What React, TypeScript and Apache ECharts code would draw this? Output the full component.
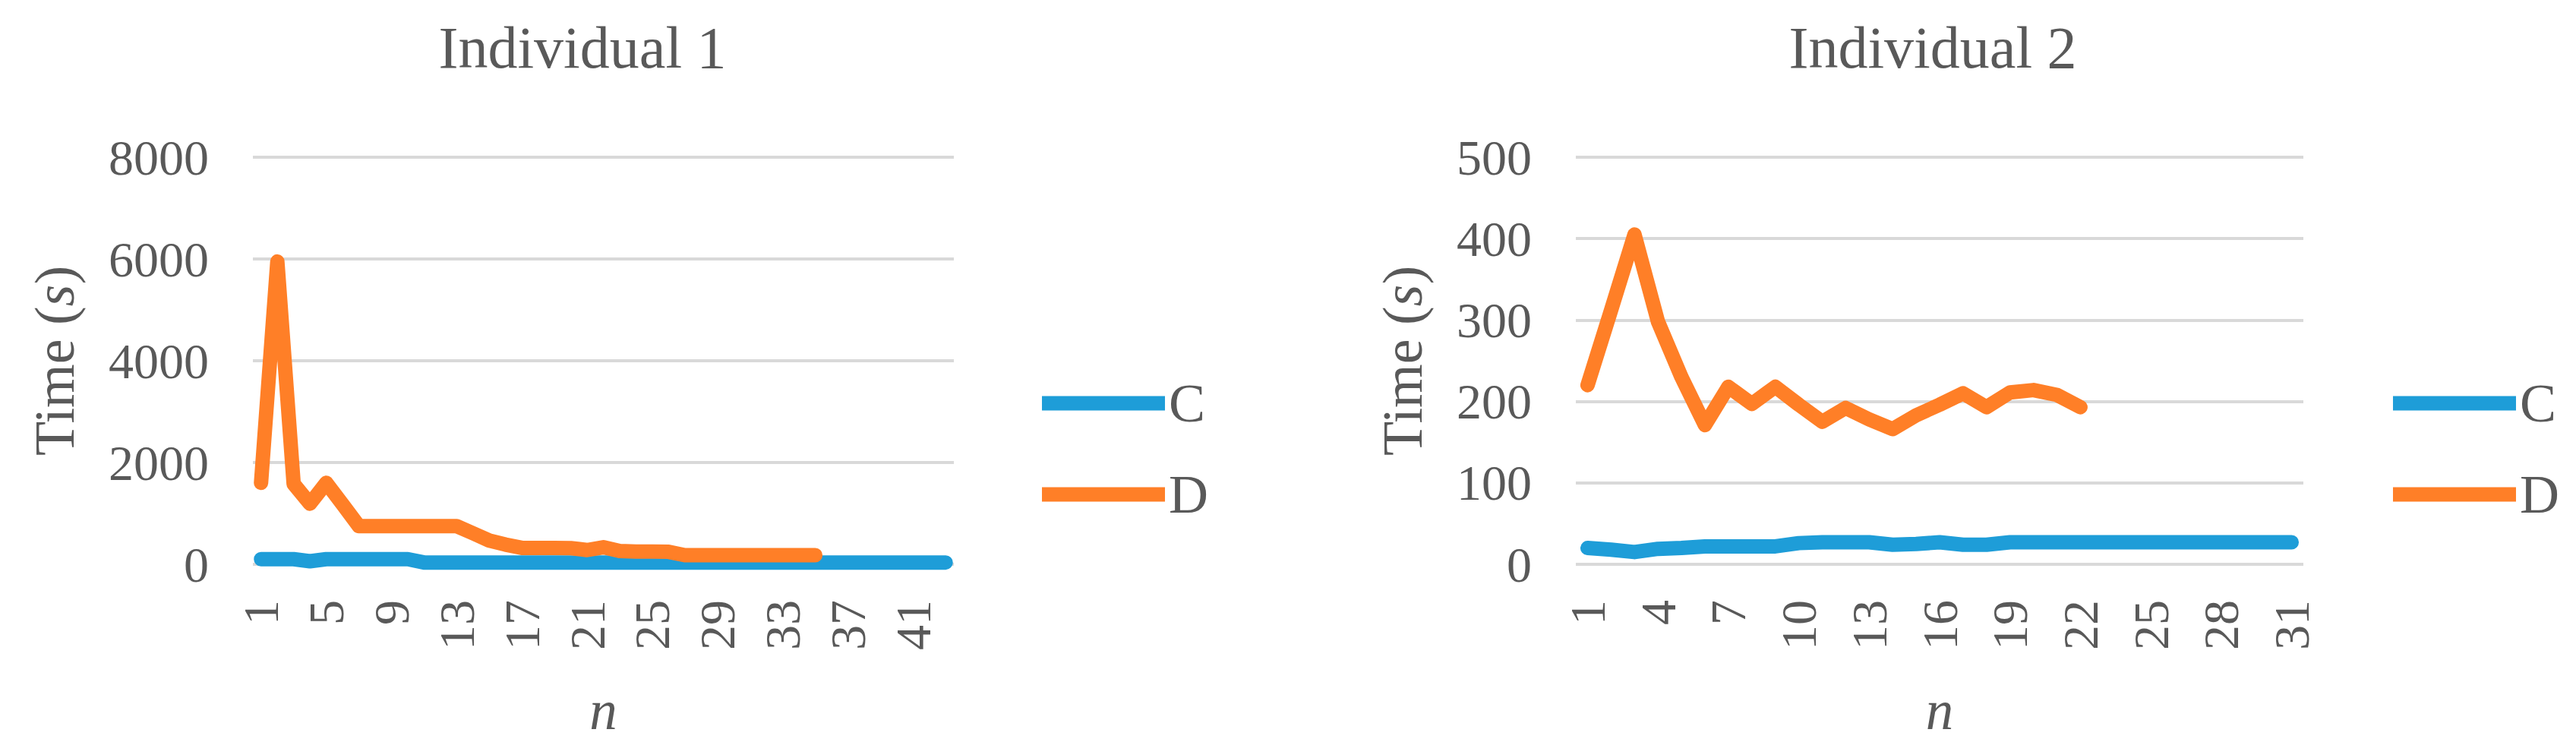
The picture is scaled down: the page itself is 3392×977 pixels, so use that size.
import React, { useEffect, useRef } from 'react';
import * as echarts from 'echarts';

const CATS1 = ['1','2','3','4','5','6','7','8','9','10','11','12','13','14','15','16','17','18','19','20','21','22','23','24','25','26','27','28','29','30','31','32','33','34','35','36','37','38','39','40','41','42','43'];
const C1 = [100,100,100,60,100,100,100,100,100,100,35,35,35,35,35,35,35,35,35,35,35,35,35,35,35,35,35,35,35,35,35,35,35,35,35,35,35,35,35,35,35,35,35];
const D1 = [1600,5950,1580,1190,1600,1180,750,750,750,750,750,750,750,610,466,387,322,320,320,318,280,335,262,250,250,245,180,180,180,180,180,180,180,180,180];

const CATS2 = ['1','2','3','4','5','6','7','8','9','10','11','12','13','14','15','16','17','18','19','20','21','22','23','24','25','26','27','28','29','30','31'];
const C2 = [20,18,15,19,20,22,22,22,22,26,27,27,27,24,25,27,24,24,27,27,27,27,27,27,27,27,27,27,27,27,27];
const D2 = [220,312,405,298,230,171,218,197,218,196,175,192,178,166,183,196,210,193,211,214,208,193];

const Y1_MAX = 8000, Y1_STEP = 2000;
const Y2_MAX = 500, Y2_STEP = 100;

const TITLES = ['Individual 1', 'Individual 2'];

const BLUE = '#1E9DD8';
const ORANGE = '#FF7F27';
const GREY = '#595959';
const GRID = '#D9D9D9';
const FONT = '"Liberation Serif", "Times New Roman", serif';

function xAxis(gridIndex: number, data: string[], interval: number) {
  return {
    type: 'category', gridIndex, data, boundaryGap: true,
    axisLine: { show: false }, axisTick: { show: false },
    axisLabel: { interval, rotate: 90, margin: 47, fontSize: 66, color: GREY, fontFamily: FONT },
    name: 'n', nameLocation: 'middle', nameGap: 156,
    nameTextStyle: { fontSize: 73, color: GREY, fontFamily: FONT, fontStyle: 'italic' },
    splitLine: { show: false },
  };
}

function yAxis(gridIndex: number, max: number, step: number, nameGap: number) {
  return {
    type: 'value', gridIndex, min: 0, max, interval: step,
    axisLine: { show: false }, axisTick: { show: false },
    axisLabel: { margin: 58, fontSize: 66, color: GREY, fontFamily: FONT, formatter: (v: number) => String(v) },
    splitLine: { show: true, lineStyle: { color: GRID, width: 4 } },
    name: '{a|Time (}{b|s}{a|)}', nameLocation: 'middle', nameGap, nameRotate: 90,
    nameTextStyle: {
      rich: {
        a: { fontSize: 74, color: GREY, fontFamily: FONT },
        b: { fontSize: 74, color: GREY, fontFamily: FONT, fontStyle: 'italic' },
      },
    },
  };
}

function line(name: string, color: string, data: number[], idx: number) {
  return {
    type: 'line', name, data, xAxisIndex: idx, yAxisIndex: idx, symbol: 'none',
    lineStyle: { width: 19, color, cap: 'round', join: 'round' },
    itemStyle: { color },
  };
}

function legend(left: number) {
  return {
    orient: 'vertical', left, top: 490, icon: 'rect', itemWidth: 162, itemHeight: 19, itemGap: 48,
    data: ['C', 'D'],
    textStyle: { fontSize: 72, lineHeight: 72, color: GREY, fontFamily: FONT },
  };
}

export default function App() {
  const ref = useRef<HTMLDivElement>(null);
  useEffect(() => {
    const chart = echarts.init(ref.current!, null, { renderer: 'svg' });
    chart.setOption({
      animation: false,
      backgroundColor: '#ffffff',
      title: [
        { text: TITLES[0], left: 762, top: 18, textAlign: 'center', textStyle: { fontSize: 78, fontWeight: 'normal', color: GREY, fontFamily: FONT } },
        { text: TITLES[1], left: 2540, top: 18, textAlign: 'center', textStyle: { fontSize: 78, fontWeight: 'normal', color: GREY, fontFamily: FONT } },
      ],
      grid: [
        { left: 333, top: 207, width: 923, height: 539 },
        { left: 2075, top: 207, width: 958, height: 539 },
      ],
      xAxis: [xAxis(0, CATS1, 3), xAxis(1, CATS2, 2)],
      yAxis: [yAxis(0, Y1_MAX, Y1_STEP, 224), yAxis(1, Y2_MAX, Y2_STEP, 191)],
      legend: [legend(1367), legend(3146)],
      series: [
        line('C', BLUE, C1, 0),
        line('D', ORANGE, D1, 0),
        line('C', BLUE, C2, 1),
        line('D', ORANGE, D2, 1),
      ],
    });
    return () => chart.dispose();
  }, []);
  return <div ref={ref} style={{ position: 'absolute', left: 0, top: 0, width: 3392, height: 977 }} />;
}
